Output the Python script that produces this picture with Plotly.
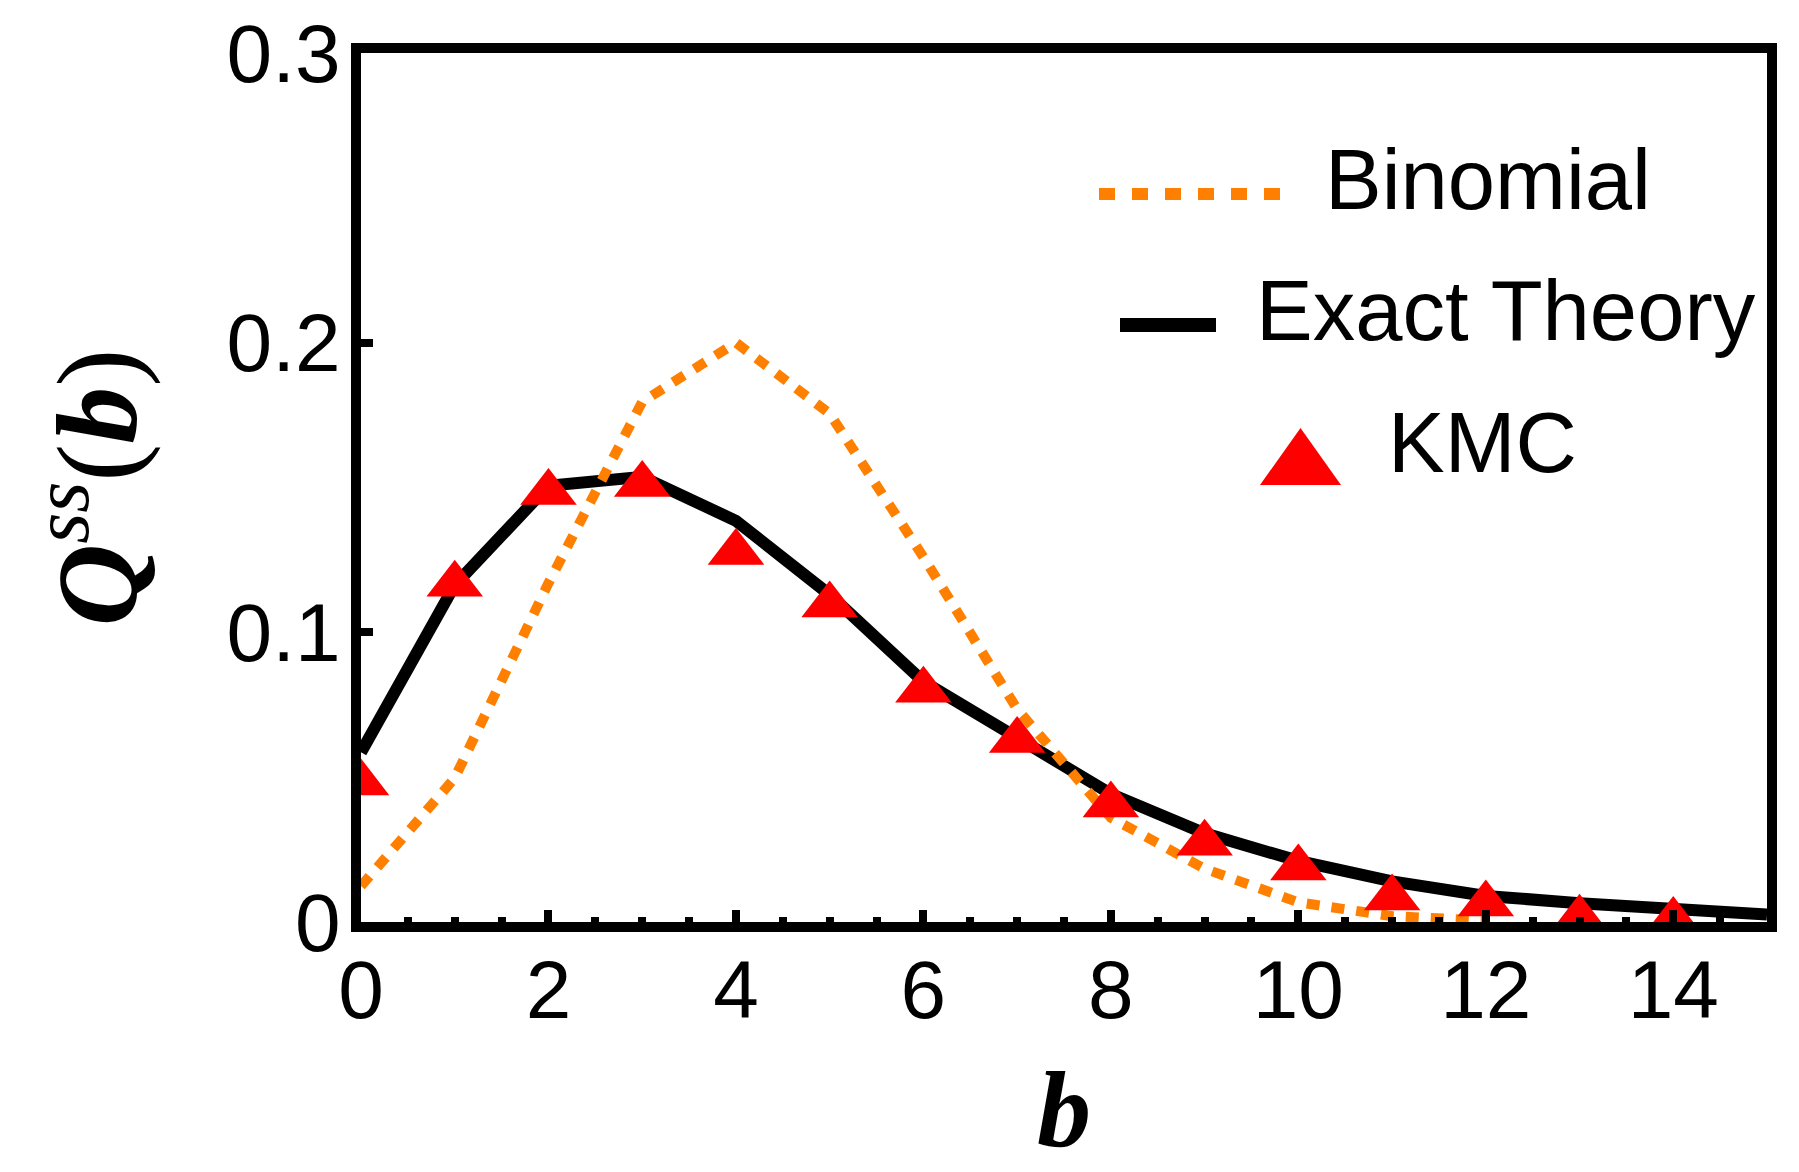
import plotly.graph_objects as go

# ---------------- data ----------------
b_exact = list(range(16))
exact_theory = [0.0586, 0.1163, 0.1506, 0.1537, 0.1385, 0.1130, 0.0830, 0.0633,
                0.0442, 0.0306, 0.0211, 0.0140, 0.0090, 0.0065, 0.0043, 0.0026]

b_binom = list(range(13))
binomial = [0.0124, 0.0497, 0.1170, 0.1796, 0.2000, 0.1755, 0.1260, 0.0735,
            0.0360, 0.0184, 0.0068, 0.0020, 0.0005]

b_kmc = list(range(15))
kmc = [0.0480, 0.1166, 0.1483, 0.1510, 0.1276, 0.1094, 0.0800, 0.0627,
       0.0404, 0.0272, 0.0186, 0.0083, 0.0062, 0.0013, 0.0005]

x_tickvals = [0, 2, 4, 6, 8, 10, 12, 14]
x_ticktext = ["0", "2", "4", "6", "8", "10", "12", "14"]
y_tickvals = [0, 0.1, 0.2, 0.3]
y_ticktext = ["0", "0.1", "0.2", "0.3"]
legend_labels = ["Binomial", "Exact Theory", "KMC"]
x_title = "<b><i>b</i></b>"
y_title = "<b><i>Q</i></b><sup><i>ss</i></sup>(<b><i>b</i></b>)"

# ---------------- layout geometry ----------------
W, H = 1799, 1172
L, R, T, B = 361, 32, 53, 250
PW, PH = W - L - R, H - T - B


def px(x):
    return (x - L) / PW


def py(y):
    return (H - B - y) / PH


ORANGE = "#FF8000"
RED = "#FF0000"
SANS = "Liberation Sans, Arial, sans-serif"
SERIF = "Liberation Serif, Times New Roman, serif"

fig = go.Figure()
fig.add_trace(go.Scatter(x=b_exact, y=exact_theory, mode="lines",
                         name=legend_labels[1],
                         line=dict(color="black", width=12)))
fig.add_trace(go.Scatter(x=b_binom, y=binomial, mode="lines",
                         name=legend_labels[0],
                         line=dict(color=ORANGE, width=10, dash="13px,12px")))
fig.add_trace(go.Scatter(x=b_kmc, y=kmc, mode="markers",
                         name=legend_labels[2],
                         marker=dict(symbol="triangle-up", size=49, color=RED,
                                     line=dict(width=0))))

# ---------------- manual legend ----------------
shapes = [
    dict(type="line", xref="paper", yref="paper",
         x0=px(1099), x1=px(1280), y0=py(194), y1=py(194),
         line=dict(color=ORANGE, width=12, dash="16px,17px")),
    dict(type="line", xref="paper", yref="paper",
         x0=px(1120), x1=px(1216), y0=py(325), y1=py(325),
         line=dict(color="black", width=14)),
    dict(type="path", xref="paper", yref="paper",
         path=f"M{px(1260)},{py(485)} L{px(1341)},{py(485)} L{px(1300.5)},{py(428)} Z",
         fillcolor=RED, line=dict(width=0)),
]
annotations = [
    dict(text=legend_labels[0], x=px(1323), y=py(179)),
    dict(text=legend_labels[1], x=px(1254), y=py(310)),
    dict(text=legend_labels[2], x=px(1386), y=py(442)),
]
for a in annotations:
    a.update(xref="paper", yref="paper", xanchor="left", yanchor="middle",
             showarrow=False, font=dict(family=SANS, size=85, color="black"))

# x-axis title, sitting low as in the reference but fully inside the page
annotations.append(dict(text=x_title, xref="paper", yref="paper",
                        x=0.5, y=py(1170), xanchor="center", yanchor="bottom",
                        showarrow=False, borderpad=0,
                        font=dict(family=SERIF, size=108, color="black")))

axis_common = dict(
    showline=True, linecolor="black", linewidth=10, mirror=True,
    ticks="inside", tickcolor="black", tickwidth=8, ticklen=12,
    showgrid=False, zeroline=False,
    tickfont=dict(family=SANS, size=82, color="black"),
)

fig.update_layout(
    width=W, height=H,
    margin=dict(l=L, r=R, t=T, b=B, autoexpand=False),
    paper_bgcolor="white", plot_bgcolor="white",
    showlegend=False,
    shapes=shapes,
    annotations=annotations,
    xaxis=dict(range=[0, 15], tickmode="array", tickvals=x_tickvals,
               ticktext=x_ticktext,
               minor=dict(dtick=0.5, tick0=0, ticks="inside", ticklen=5,
                          tickwidth=8, tickcolor="black"),
               ticklabelstandoff=-12,
               **axis_common),
    yaxis=dict(range=[0, 0.3], tickmode="array", tickvals=y_tickvals,
               ticktext=y_ticktext,
               ticklabelstandoff=-6,
               title=dict(text=y_title,
                          font=dict(family=SERIF, size=114, color="black"),
                          standoff=56),
               **axis_common),
)

fig.write_html("out.html")
